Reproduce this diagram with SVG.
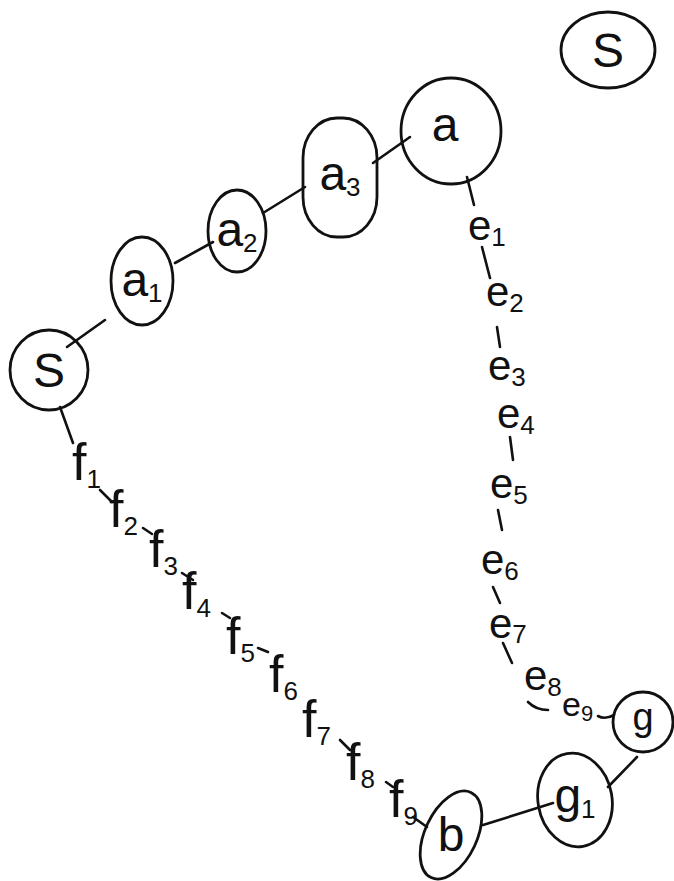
<svg xmlns="http://www.w3.org/2000/svg" width="674" height="881" viewBox="0 0 674 881">
<style>
.n{fill:none;stroke:#111;stroke-width:2.8}
.c{fill:none;stroke:#111;stroke-width:2.6;stroke-linecap:round}
.t{font-family:"Liberation Sans",Arial,sans-serif;fill:#111}
.nl{font-size:48px;text-anchor:middle}
.el{font-size:42px}
.fl{font-size:52px}
.s{font-size:26px}
</style>
<rect width="674" height="881" fill="#fff"/>
<g id="connectors">
<line class="c" x1="67" y1="347" x2="105" y2="320"/>
<line class="c" x1="175" y1="263" x2="213" y2="242"/>
<line class="c" x1="263" y1="213" x2="305" y2="187"/>
<line class="c" x1="373" y1="163" x2="410" y2="137"/>
<line class="c" x1="483" y1="825" x2="553" y2="803"/>
<line class="c" x1="608" y1="787" x2="637" y2="757"/>
<line class="c" x1="467" y1="177" x2="474" y2="205"/>
<line class="c" x1="482" y1="247" x2="490" y2="278"/>
<line class="c" x1="497" y1="327" x2="500" y2="347"/>
<line class="c" x1="510" y1="437" x2="513" y2="460"/>
<line class="c" x1="498" y1="510" x2="502" y2="530"/>
<line class="c" x1="493" y1="587" x2="500" y2="603"/>
<line class="c" x1="503" y1="643" x2="512" y2="663"/>
<path class="c" d="M528 702 Q536 710 548 710"/>
<path class="c" d="M598 716 Q605 720 614 715"/>
<line class="c" x1="60" y1="407" x2="73" y2="443"/>
<line class="c" x1="100" y1="490" x2="112" y2="502"/>
<line class="c" x1="143" y1="528" x2="152" y2="534"/>
<line class="c" x1="182" y1="573" x2="193" y2="580"/>
<line class="c" x1="222" y1="613" x2="230" y2="618"/>
<line class="c" x1="258" y1="648" x2="268" y2="652"/>
<line class="c" x1="340" y1="740" x2="350" y2="750"/>
<line class="c" x1="386" y1="782" x2="393" y2="787"/>
<line class="c" x1="413" y1="817" x2="427" y2="827"/>
</g>
<g id="edge-labels" class="t">
<text class="el" x="468" y="240">e<tspan class="s" dy="6">1</tspan></text>
<text class="el" x="486" y="306">e<tspan class="s" dy="6">2</tspan></text>
<text class="el" x="488" y="380">e<tspan class="s" dy="6">3</tspan></text>
<text class="el" x="497" y="428">e<tspan class="s" dy="6">4</tspan></text>
<text class="el" x="490" y="498">e<tspan class="s" dy="6">5</tspan></text>
<text class="el" x="481" y="574">e<tspan class="s" dy="6">6</tspan></text>
<text class="el" x="489" y="638">e<tspan class="s" dy="5">7</tspan></text>
<text class="el" x="524" y="690">e<tspan class="s" dy="6">8</tspan></text>
<text class="el" x="562" y="716" style="font-size:34px">e<tspan class="s" dy="5" style="font-size:22px">9</tspan></text>
<text class="fl" x="72" y="480">f<tspan class="s" dy="8">1</tspan></text>
<text class="fl" x="109" y="527">f<tspan class="s" dy="8">2</tspan></text>
<text class="fl" x="149" y="567">f<tspan class="s" dy="8">3</tspan></text>
<text class="fl" x="182" y="609">f<tspan class="s" dy="8">4</tspan></text>
<text class="fl" x="226" y="654">f<tspan class="s" dy="8">5</tspan></text>
<text class="fl" x="269" y="692">f<tspan class="s" dy="8">6</tspan></text>
<text class="fl" x="302" y="737">f<tspan class="s" dy="8">7</tspan></text>
<text class="fl" x="346" y="780">f<tspan class="s" dy="8">8</tspan></text>
<text class="fl" x="389" y="817">f<tspan class="s" dy="8">9</tspan></text>
</g>
<g id="node-S-top">
<ellipse class="n" cx="608" cy="50" rx="47" ry="38"/>
<text class="t nl" x="608" y="67">S</text>
</g>
<g id="node-S">
<ellipse class="n" cx="49" cy="370" rx="39" ry="40"/>
<text class="t nl" x="49" y="387">S</text>
</g>
<g id="node-a1">
<ellipse class="n" cx="142" cy="281" rx="31" ry="44"/>
<text class="t nl" x="142" y="296">a<tspan class="s" dy="6">1</tspan></text>
</g>
<g id="node-a2">
<ellipse class="n" cx="237" cy="231" rx="29" ry="41"/>
<text class="t nl" x="237" y="246">a<tspan class="s" dy="6">2</tspan></text>
</g>
<g id="node-a3">
<rect class="n" x="303" y="118" width="74" height="119" rx="34" ry="40"/>
<text class="t nl" x="340" y="190">a<tspan class="s" dy="6">3</tspan></text>
</g>
<g id="node-a">
<ellipse class="n" cx="451" cy="131" rx="50" ry="53"/>
<text class="t nl" x="445" y="141">a</text>
</g>
<g id="node-g">
<circle class="n" cx="643" cy="722" r="30"/>
<text class="t nl" x="643" y="730" style="font-size:38px">g</text>
</g>
<g id="node-g1">
<ellipse class="n" cx="575" cy="800" rx="37" ry="47" transform="rotate(-10 575 800)"/>
<text class="t nl" x="575" y="812">g<tspan class="s" dy="6">1</tspan></text>
</g>
<g id="node-b">
<ellipse class="n" cx="451" cy="835" rx="26" ry="47" transform="rotate(25 451 835)"/>
<text class="t nl" x="451" y="851">b</text>
</g>
</svg>
